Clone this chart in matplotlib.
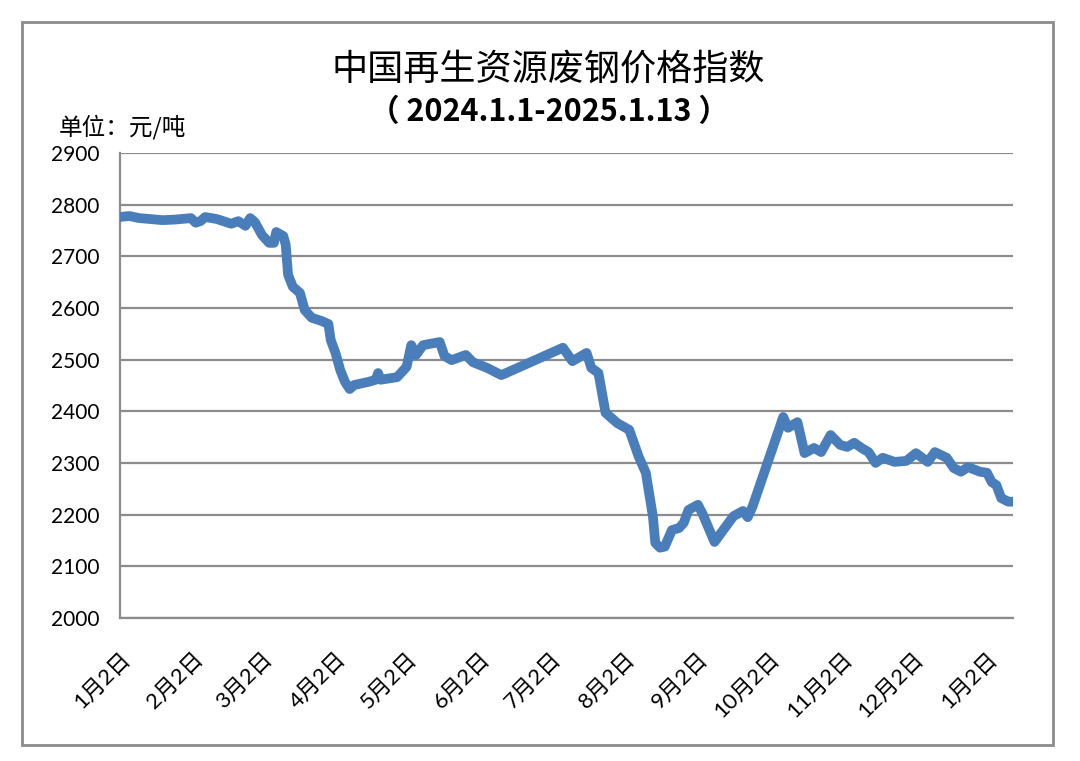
import numpy as np
import pandas as pd
import matplotlib
matplotlib.use("Agg")
import matplotlib.pyplot as plt
from matplotlib.patches import Rectangle

plt.rcParams["font.family"] = ["Lato", "Noto Sans CJK SC", "DejaVu Sans"]

# values (yuan / tonne)
DATES = [
    "2024-01-02", "2024-01-06", "2024-01-10", "2024-01-15", "2024-01-20",
    "2024-01-25", "2024-01-30", "2024-02-01", "2024-02-03", "2024-02-05",
    "2024-02-07", "2024-02-12", "2024-02-18", "2024-02-21", "2024-02-24",
    "2024-02-26", "2024-02-28", "2024-03-02", "2024-03-05", "2024-03-07",
    "2024-03-08", "2024-03-11", "2024-03-12", "2024-03-13", "2024-03-15",
    "2024-03-18", "2024-03-20", "2024-03-23", "2024-03-27", "2024-03-30",
    "2024-03-31", "2024-04-02", "2024-04-04", "2024-04-06", "2024-04-08",
    "2024-04-10", "2024-04-16", "2024-04-19", "2024-04-20", "2024-04-21",
    "2024-04-28", "2024-05-02", "2024-05-04", "2024-05-06", "2024-05-09",
    "2024-05-16", "2024-05-18", "2024-05-21", "2024-05-27", "2024-05-30",
    "2024-06-05", "2024-06-11", "2024-06-14", "2024-07-07", "2024-07-11",
    "2024-07-17", "2024-07-19", "2024-07-22", "2024-07-25", "2024-07-30",
    "2024-08-04", "2024-08-08", "2024-08-11", "2024-08-14", "2024-08-15",
    "2024-08-17", "2024-08-19", "2024-08-22", "2024-08-25", "2024-08-27",
    "2024-08-29", "2024-09-02", "2024-09-04", "2024-09-09", "2024-09-12",
    "2024-09-17", "2024-09-21", "2024-09-23", "2024-09-25", "2024-10-08",
    "2024-10-10", "2024-10-14", "2024-10-17", "2024-10-21", "2024-10-24",
    "2024-10-28", "2024-11-01", "2024-11-04", "2024-11-07", "2024-11-10",
    "2024-11-13", "2024-11-16", "2024-11-19", "2024-11-24", "2024-11-29",
    "2024-12-03", "2024-12-08", "2024-12-11", "2024-12-16", "2024-12-19",
    "2024-12-22", "2024-12-25", "2024-12-30", "2025-01-02", "2025-01-04",
    "2025-01-06", "2025-01-08", "2025-01-11", "2025-01-13",
]
PRICES = [
    2776, 2778, 2774, 2772, 2770,
    2771, 2773, 2774, 2765, 2768,
    2776, 2772, 2763, 2768, 2759,
    2774, 2766, 2741, 2726, 2726,
    2747, 2739, 2722, 2664, 2641,
    2629, 2596, 2581, 2575, 2569,
    2538, 2513, 2480, 2457, 2443,
    2451, 2457, 2461, 2474, 2461,
    2466, 2486, 2528, 2509, 2528,
    2534, 2507, 2499, 2509, 2495,
    2484, 2470, 2476, 2523, 2497,
    2513, 2484, 2474, 2397, 2377,
    2364, 2312, 2281, 2196, 2145,
    2136, 2138, 2170, 2174, 2184,
    2209, 2219, 2201, 2147, 2166,
    2197, 2207, 2195, 2215, 2389,
    2368, 2379, 2319, 2329, 2321,
    2354, 2335, 2331, 2339, 2329,
    2321, 2300, 2310, 2302, 2304,
    2319, 2302, 2321, 2310, 2290,
    2283, 2292, 2283, 2281, 2263,
    2257, 2232, 2225, 2225,
]

TICK_DATES = [
    "2024-01-02", "2024-02-02", "2024-03-02", "2024-04-02", "2024-05-02",
    "2024-06-02", "2024-07-02", "2024-08-02", "2024-09-02", "2024-10-02",
    "2024-11-02", "2024-12-02", "2025-01-02",
]
TICK_LABELS = [
    "1月2日", "2月2日", "3月2日", "4月2日", "5月2日", "6月2日", "7月2日",
    "8月2日", "9月2日", "10月2日", "11月2日", "12月2日", "1月2日",
]
Y_TICKS = list(range(2000, 2901, 100))


def main():
    dates = pd.to_datetime(DATES)
    fig = plt.figure(figsize=(10.8, 7.61), dpi=100)
    ax = fig.add_axes([0.111, 0.188, 0.827, 0.611])

    ax.plot(dates, PRICES, color="#4A7EBB", linewidth=7,
            solid_joinstyle="round", solid_capstyle="round", zorder=3)

    ax.set_ylim(2000, 2900)
    ax.set_yticks(Y_TICKS)
    ax.set_xlim(pd.Timestamp("2024-01-02"), pd.Timestamp("2025-01-13"))
    ax.set_xticks(pd.to_datetime(TICK_DATES))
    ax.set_xticklabels(TICK_LABELS, rotation=45, ha="right",
                       rotation_mode="anchor", fontsize=16)
    ax.tick_params(axis="y", length=0, pad=15, labelsize=15)
    ax.tick_params(axis="x", length=0, pad=22)

    ax.grid(axis="y", color="#8c8c8c", linewidth=1.6)
    ax.set_axisbelow(True)
    for s in ["top", "right"]:
        ax.spines[s].set_visible(False)
    for s in ["left", "bottom"]:
        ax.spines[s].set_color("#8c8c8c")
        ax.spines[s].set_linewidth(1.6)

    fig.text(0.508, 0.908, "中国再生资源废钢价格指数", ha="center", va="center",
             fontsize=26, family=["Noto Sans CJK SC", "DejaVu Sans"])
    fig.text(0.508, 0.853, "（ 2024.1.1-2025.1.13 ）", ha="center", va="center",
             fontsize=22, fontweight="bold",
             family=["Noto Sans CJK SC", "DejaVu Sans"])
    fig.text(0.054, 0.833, "单位：元/吨", ha="left", va="center", fontsize=17,
             family=["Noto Sans CJK SC", "DejaVu Sans"])

    fig.patches.append(Rectangle((0.0204, 0.021), 0.9546, 0.95,
                                 transform=fig.transFigure, fill=False,
                                 edgecolor="#8c8c8c", linewidth=2))

    fig.savefig("out.png", dpi=100)
    plt.close(fig)


if __name__ == "__main__":
    main()
